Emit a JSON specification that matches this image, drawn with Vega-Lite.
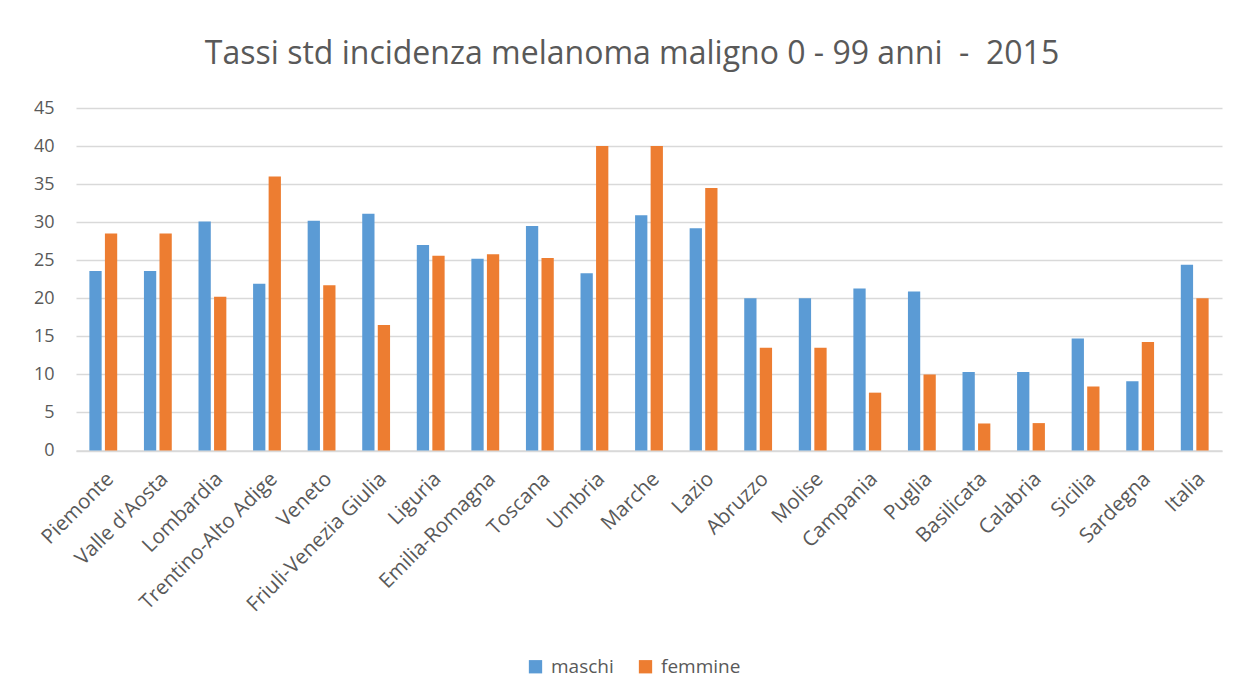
{
  "$schema": "https://vega.github.io/schema/vega-lite/v6.json",
  "width": 1146,
  "height": 342.5,
  "autosize": {"type": "none"},
  "padding": {"left": 76, "top": 108, "right": 18, "bottom": 244.5},
  "background": "white",
  "title": {
    "text": "Tassi std incidenza melanoma maligno 0 - 99 anni \u00a0- \u00a02015",
    "font": "Open Sans",
    "fontSize": 32,
    "fontWeight": "normal",
    "color": "#595959",
    "anchor": "middle",
    "frame": "group",
    "dx": -17,
    "offset": 28
  },
  "data": {
    "values": [
      {"regione": "Piemonte", "sesso": "maschi", "tasso": 23.6},
      {"regione": "Piemonte", "sesso": "femmine", "tasso": 28.5},
      {"regione": "Valle d'Aosta", "sesso": "maschi", "tasso": 23.6},
      {"regione": "Valle d'Aosta", "sesso": "femmine", "tasso": 28.5},
      {"regione": "Lombardia", "sesso": "maschi", "tasso": 30.1},
      {"regione": "Lombardia", "sesso": "femmine", "tasso": 20.2},
      {"regione": "Trentino-Alto Adige", "sesso": "maschi", "tasso": 21.9},
      {"regione": "Trentino-Alto Adige", "sesso": "femmine", "tasso": 36.0},
      {"regione": "Veneto", "sesso": "maschi", "tasso": 30.2},
      {"regione": "Veneto", "sesso": "femmine", "tasso": 21.7},
      {"regione": "Friuli-Venezia Giulia", "sesso": "maschi", "tasso": 31.1},
      {"regione": "Friuli-Venezia Giulia", "sesso": "femmine", "tasso": 16.5},
      {"regione": "Liguria", "sesso": "maschi", "tasso": 27.0},
      {"regione": "Liguria", "sesso": "femmine", "tasso": 25.6},
      {"regione": "Emilia-Romagna", "sesso": "maschi", "tasso": 25.2},
      {"regione": "Emilia-Romagna", "sesso": "femmine", "tasso": 25.8},
      {"regione": "Toscana", "sesso": "maschi", "tasso": 29.5},
      {"regione": "Toscana", "sesso": "femmine", "tasso": 25.3},
      {"regione": "Umbria", "sesso": "maschi", "tasso": 23.3},
      {"regione": "Umbria", "sesso": "femmine", "tasso": 40.0},
      {"regione": "Marche", "sesso": "maschi", "tasso": 30.9},
      {"regione": "Marche", "sesso": "femmine", "tasso": 40.0},
      {"regione": "Lazio", "sesso": "maschi", "tasso": 29.2},
      {"regione": "Lazio", "sesso": "femmine", "tasso": 34.5},
      {"regione": "Abruzzo", "sesso": "maschi", "tasso": 20.0},
      {"regione": "Abruzzo", "sesso": "femmine", "tasso": 13.5},
      {"regione": "Molise", "sesso": "maschi", "tasso": 20.0},
      {"regione": "Molise", "sesso": "femmine", "tasso": 13.5},
      {"regione": "Campania", "sesso": "maschi", "tasso": 21.3},
      {"regione": "Campania", "sesso": "femmine", "tasso": 7.6},
      {"regione": "Puglia", "sesso": "maschi", "tasso": 20.9},
      {"regione": "Puglia", "sesso": "femmine", "tasso": 10.0},
      {"regione": "Basilicata", "sesso": "maschi", "tasso": 10.3},
      {"regione": "Basilicata", "sesso": "femmine", "tasso": 3.55},
      {"regione": "Calabria", "sesso": "maschi", "tasso": 10.3},
      {"regione": "Calabria", "sesso": "femmine", "tasso": 3.6},
      {"regione": "Sicilia", "sesso": "maschi", "tasso": 14.7},
      {"regione": "Sicilia", "sesso": "femmine", "tasso": 8.4},
      {"regione": "Sardegna", "sesso": "maschi", "tasso": 9.1},
      {"regione": "Sardegna", "sesso": "femmine", "tasso": 14.25},
      {"regione": "Italia", "sesso": "maschi", "tasso": 24.4},
      {"regione": "Italia", "sesso": "femmine", "tasso": 20.0}
    ]
  },
  "mark": {"type": "bar"},
  "encoding": {
    "x": {
      "field": "regione",
      "type": "nominal",
      "sort": null,
      "title": null,
      "scale": {"paddingInner": 0.49, "paddingOuter": 0.245},
      "axis": {
        "labelAngle": -45,
        "labelFont": "Open Sans",
        "labelFontSize": 20.5,
        "labelColor": "#595959",
        "labelPadding": 18,
        "labelDx": -10,
        "labelLimit": 400,
        "labelOverlap": false,
        "ticks": false,
        "domainColor": "#d9d9d9",
        "domainWidth": 1.5,
        "grid": false
      }
    },
    "xOffset": {
      "field": "sesso",
      "type": "nominal",
      "sort": ["maschi", "femmine"],
      "scale": {"paddingInner": 0.21, "paddingOuter": 0}
    },
    "y": {
      "field": "tasso",
      "type": "quantitative",
      "title": null,
      "scale": {"domain": [0, 45], "nice": false},
      "axis": {
        "values": [0, 5, 10, 15, 20, 25, 30, 35, 40, 45],
        "labelFont": "Open Sans",
        "labelFontSize": 18,
        "labelColor": "#595959",
        "labelPadding": 22,
        "ticks": false,
        "domain": false,
        "gridColor": "#d9d9d9",
        "gridWidth": 1.3
      }
    },
    "color": {
      "field": "sesso",
      "type": "nominal",
      "sort": ["maschi", "femmine"],
      "scale": {"domain": ["maschi", "femmine"], "range": ["#5B9BD5", "#ED7D31"]},
      "legend": {
        "title": null,
        "orient": "none",
        "direction": "horizontal",
        "legendX": 450,
        "legendY": 549,
        "symbolType": "square",
        "symbolSize": 177,
        "symbolStrokeWidth": 0,
        "labelFont": "Open Sans",
        "labelFontSize": 19,
        "labelColor": "#595959",
        "labelOffset": 6,
        "columnPadding": 22,
        "padding": 0
      }
    }
  },
  "config": {
    "view": {"stroke": null}
  }
}
